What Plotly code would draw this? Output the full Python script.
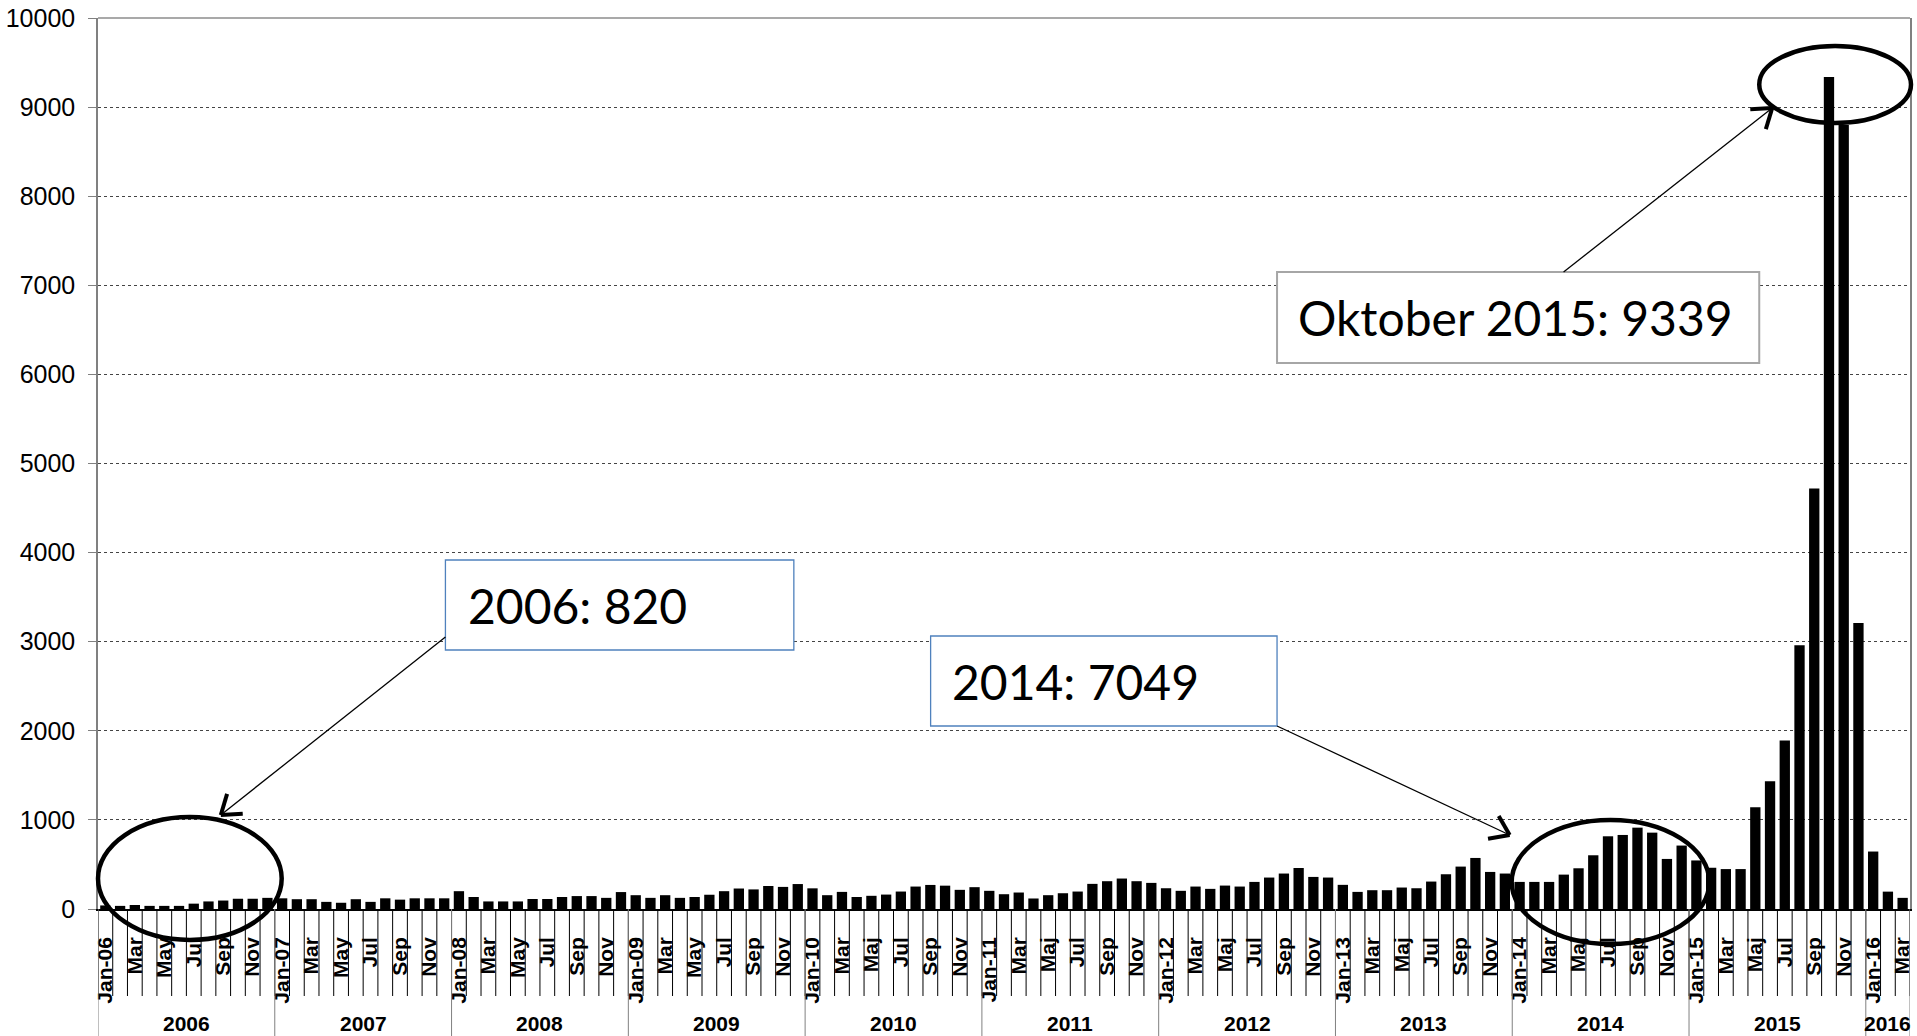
import math
import plotly.graph_objects as go

# ---------------- data ----------------
years = [2006, 2007, 2008, 2009, 2010, 2011, 2012, 2013, 2014, 2015, 2016]
months_old = ["Jan", "Feb", "Mar", "Apr", "May", "Jun", "Jul", "Aug", "Sep", "Oct", "Nov", "Dec"]
months_new = ["Jan", "Feb", "Mar", "Apr", "Maj", "Jun", "Jul", "Aug", "Sep", "Okt", "Nov", "Dec"]

v2006 = [40, 35, 45, 35, 35, 35, 60, 85, 95, 115, 115, 125]
v2007 = [120, 110, 110, 80, 70, 110, 80, 120, 105, 120, 120, 120]
v2008 = [200, 135, 85, 85, 85, 112, 112, 135, 145, 145, 125, 190]
v2009 = [155, 125, 155, 125, 135, 160, 200, 230, 220, 258, 248, 280]
v2010 = [232, 155, 192, 135, 148, 162, 196, 252, 270, 262, 215, 245]
v2011 = [204, 166, 185, 118, 155, 177, 196, 282, 312, 342, 312, 293]
v2012 = [233, 204, 252, 226, 263, 252, 304, 353, 398, 460, 360, 353]
v2013 = [271, 192, 211, 211, 241, 233, 308, 390, 476, 573, 416, 398]
v2014 = [304, 304, 304, 386, 457, 603, 816, 831, 913, 857, 562, 712]
v2015 = [545, 463, 448, 448, 1143, 1435, 1890, 2960, 4720, 9339, 8800, 3210]
v2016 = [645, 195, 125]

yearly_values = [v2006, v2007, v2008, v2009, v2010, v2011, v2012, v2013, v2014, v2015, v2016]

y_ticks = [0, 1000, 2000, 3000, 4000, 5000, 6000, 7000, 8000, 9000, 10000]
y_ticktext = ["0", "1000", "2000", "3000", "4000", "5000", "6000", "7000", "8000", "9000", "10000"]

box_2006 = "2006: 820"
box_2014 = "2014: 7049"
box_2015 = "Oktober 2015: 9339"

# ---------------- build series ----------------
values = []
labels = []
for yr, vals in zip(years, yearly_values):
    names = months_old if yr <= 2009 else months_new
    for m, v in enumerate(vals):
        values.append(v)
        labels.append(f"Jan-{str(yr)[2:]}" if m == 0 else names[m])
n = len(values)
xs = list(range(n))

tickvals = [i for i in xs if (i % 12) % 2 == 0]
ticktext = [f"<b>{labels[i]}</b>" for i in tickvals]

# ---------------- geometry helpers (for decorations) ----------------
W, H = 1917, 1036
ML, MR, MT, MB = 98, 4, 18, 127
PW = W - ML - MR
PH = H - MT - MB
Y0 = H - MB


def pp(px, py):
    return (px - ML) / PW, (Y0 - py) / PH


FONT = "Liberation Sans, Arial, sans-serif"

fig = go.Figure()
fig.add_trace(go.Bar(x=xs, y=values, marker=dict(color="black", line=dict(width=0)),
                     hoverinfo="y", showlegend=False))

shapes = []
annotations = []

# month tick lines
for i in range(n + 1):
    shapes.append(dict(type="line", xref="x", yref="paper", x0=i - 0.5, x1=i - 0.5,
                       y0=0, y1=(Y0 - 996) / PH, line=dict(color="black", width=1), layer="above"))
# year separators and year labels
start = 0
for yr, vals in zip(years, yearly_values):
    shapes.append(dict(type="line", xref="x", yref="paper", x0=start - 0.5, x1=start - 0.5,
                       y0=0, y1=(Y0 - H) / PH, line=dict(color="#808080", width=1)))
    annotations.append(dict(xref="x", yref="paper", x=start + (len(vals) - 1) / 2,
                            y=(Y0 - 1023) / PH, text=f"<b>{yr}</b>", showarrow=False,
                            font=dict(family=FONT, size=21, color="black"),
                            xanchor="center", yanchor="middle"))
    start += len(vals)
shapes.append(dict(type="line", xref="x", yref="paper", x0=n - 0.5, x1=n - 0.5,
                   y0=0, y1=(Y0 - H) / PH, line=dict(color="#808080", width=1)))
# top border
shapes.append(dict(type="line", xref="paper", yref="paper", x0=0, x1=1, y0=1, y1=1,
                   line=dict(color="#8c8c8c", width=1.5)))


def ellipse(x0, y0, x1, y1):
    a0, b0 = pp(x0, y1)
    a1, b1 = pp(x1, y0)
    shapes.append(dict(type="circle", xref="paper", yref="paper", x0=a0, y0=b0, x1=a1, y1=b1,
                       line=dict(color="black", width=4.5), layer="above"))


def arrow(tx, ty, hx, hy):
    a0, b0 = pp(tx, ty)
    a1, b1 = pp(hx, hy)
    shapes.append(dict(type="line", xref="paper", yref="paper", x0=a0, y0=b0, x1=a1, y1=b1,
                       line=dict(color="black", width=1.3), layer="above"))
    dx, dy = hx - tx, hy - ty
    d = math.hypot(dx, dy)
    ux, uy = dx / d, dy / d
    for ang in (35, -35):
        r = math.radians(ang)
        rx = ux * math.cos(r) - uy * math.sin(r)
        ry = ux * math.sin(r) + uy * math.cos(r)
        ex, ey = hx - 22 * rx, hy - 22 * ry
        c0, d0 = pp(ex, ey)
        shapes.append(dict(type="line", xref="paper", yref="paper", x0=a1, y0=b1, x1=c0, y1=d0,
                           line=dict(color="black", width=4), layer="above"))


def textbox(x0, y0, x1, y1, color, width, text, tx):
    a0, b0 = pp(x0, y1)
    a1, b1 = pp(x1, y0)
    shapes.append(dict(type="rect", xref="paper", yref="paper", x0=a0, y0=b0, x1=a1, y1=b1,
                       line=dict(color=color, width=width), fillcolor="white", layer="above"))
    ax, ay = pp(tx, (y0 + y1) / 2)
    annotations.append(dict(xref="paper", yref="paper", x=ax, y=ay, text=text, showarrow=False,
                            xanchor="left", yanchor="middle",
                            font=dict(family="Lato, sans-serif", size=48, color="black")))


ellipse(98, 817, 282, 940)
ellipse(1514, 820, 1712, 944)
ellipse(1762, 46, 1914, 123)

textbox(446, 560, 795, 650, "#4f81bd", 1.3, box_2006, 467)
textbox(932, 636, 1279, 726, "#4f81bd", 1.3, box_2014, 951)
textbox(1279, 272, 1762, 363, "#a6a6a6", 2, box_2015, 1298)

arrow(446, 637, 221, 815)
arrow(1279, 726, 1512, 835)
arrow(1566, 272, 1775, 108)

fig.update_layout(
    width=W, height=H,
    margin=dict(l=ML, r=MR, t=MT, b=MB, pad=0),
    paper_bgcolor="white", plot_bgcolor="white",
    bargap=0.3,
    shapes=shapes, annotations=annotations,
    xaxis=dict(range=[-0.5, n - 0.5], tickmode="array", tickvals=tickvals, ticktext=ticktext,
               tickangle=-90, ticks="", ticklabelstandoff=18,
               tickfont=dict(family=FONT, size=21, color="black"),
               showgrid=False, zeroline=False, showline=True, linecolor="black", linewidth=1.5),
    yaxis=dict(range=[0, 10000], tickmode="array", tickvals=y_ticks, ticktext=y_ticktext,
               tickfont=dict(family=FONT, size=25, color="black"),
               ticks="outside", ticklen=8, tickcolor="#808080", ticklabelstandoff=8,
               showgrid=True, gridcolor="#444444", griddash="dot", gridwidth=1,
               zeroline=False, showline=True, linecolor="#808080", linewidth=1.5, mirror=True),
    font=dict(family=FONT),
)

fig.write_html("out.html", config={"displayModeBar": False},
               post_script="document.body.style.margin='0';")
